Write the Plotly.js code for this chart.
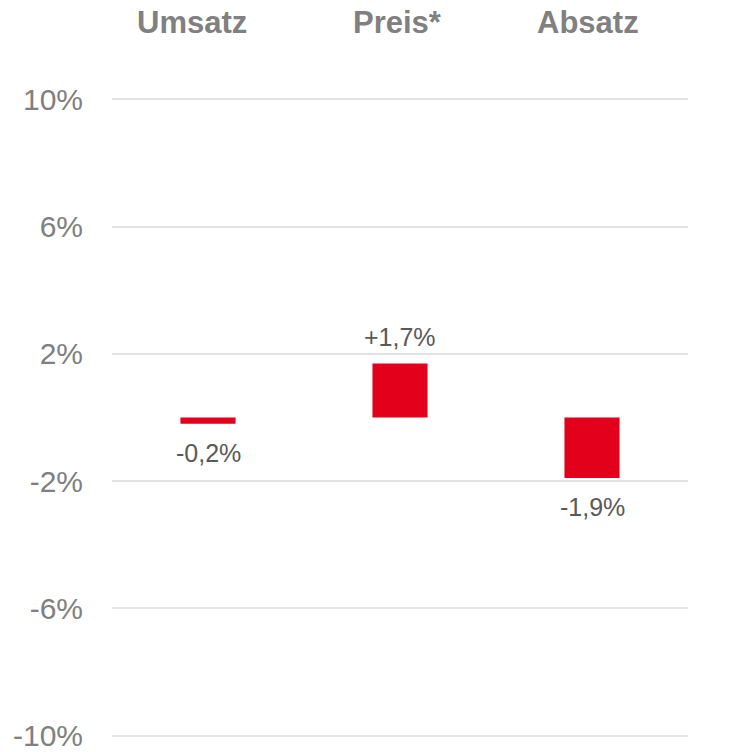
<!DOCTYPE html>
<html>
<head>
<meta charset="utf-8">
<script src="https://cdn.plot.ly/plotly-3.0.1.min.js"></script>
<style>
  html, body { margin: 0; padding: 0; background: #ffffff; }
  #chart { width: 754px; height: 752px; }
</style>
</head>
<body>
<div id="chart"></div>
<script>
const categories = ["Umsatz", "Preis*", "Absatz"];
const changes = [-0.2, 1.7, -1.9];
const tickValues = [-10, -6, -2, 2, 6, 10];
const tickLabels = ["-10%", "-6%", "-2%", "2%", "6%", "10%"];
const valueLabels = ["-0,2%", "+1,7%", "-1,9%"];

const headerShift = [-16, -3, -4];
const FONT = "Liberation Sans, Arial, sans-serif";

const trace = {
  type: "bar",
  x: categories,
  y: changes,
  width: 0.287,
  marker: { color: "#e2001a" },
  cliponaxis: false,
  hoverinfo: "skip"
};

const headerAnn = categories.map((c, i) => ({
  x: c, xref: "x", y: 1, yref: "paper",
  yanchor: "middle", yshift: 74, xshift: headerShift[i],
  text: "<b>" + c + "</b>", showarrow: false,
  font: { family: FONT, size: 31, color: "#808080" }
}));

const valueAnn = categories.map((c, i) => ({
  x: c, xref: "x", y: changes[i], yref: "y",
  yanchor: "middle", yshift: changes[i] >= 0 ? 26 : -29,
  text: valueLabels[i], showarrow: false,
  font: { family: FONT, size: 25, color: "#595959" }
}));

const layout = {
  width: 754, height: 752,
  margin: { l: 112, r: 66, t: 96, b: 13 },
  paper_bgcolor: "#ffffff", plot_bgcolor: "#ffffff",
  showlegend: false,
  xaxis: { showticklabels: false, showgrid: false, zeroline: false, showline: false, ticks: "" },
  yaxis: {
    range: [-10.1, 10.1],
    tickvals: tickValues,
    ticktext: tickLabels,
    ticklabeloverflow: "allow",
    showgrid: true, gridcolor: "#e3e3e3", gridwidth: 2,
    zeroline: false, showline: false,
    ticks: "outside", ticklen: 22, tickcolor: "rgba(0,0,0,0)",
    tickfont: { family: FONT, size: 30, color: "#808080" }
  },
  annotations: headerAnn.concat(valueAnn)
};

Plotly.newPlot("chart", [trace], layout, { displayModeBar: false, staticPlot: true });
</script>
</body>
</html>
